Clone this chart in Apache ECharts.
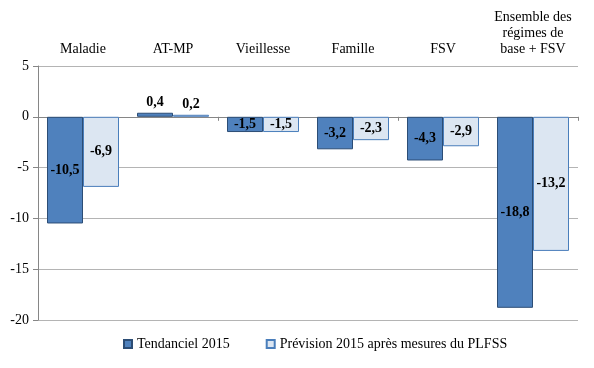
<!DOCTYPE html>
<html>
<head>
<meta charset="utf-8">
<script src="https://cdn.jsdelivr.net/npm/echarts@6/dist/echarts.min.js"></script>
<style>html,body{margin:0;padding:0;background:#fff}#c{width:594px;height:368px}</style>
</head>
<body>
<div id="c"></div>
<script>
var categories = ['Maladie', 'AT-MP', 'Vieillesse', 'Famille', 'FSV', 'Ensemble des\nrégimes de\nbase + FSV'];
var seriesNames = ['Tendanciel 2015', 'Prévision 2015 après mesures du PLFSS'];
var tendanciel = [-10.5, 0.4, -1.5, -3.2, -4.3, -18.8];
var prevision = [-6.9, 0.2, -1.5, -2.3, -2.9, -13.2];
var yTicks = [5, 0, -5, -10, -15, -20];

var FONT = '"Liberation Serif", serif';
function fmt(v) { return String(v).replace('.', ','); }
function items(arr) {
  return arr.map(function (v) {
    return { value: v, label: { position: v > 0 ? 'top' : 'inside' } };
  });
}
var chart = echarts.init(document.getElementById('c'));
chart.setOption({
  animation: false,
  grid: { left: 38, right: 16, top: 66, bottom: 48 },
  legend: {
    bottom: 12, left: 118,
    icon: 'rect',
    itemWidth: 8, itemHeight: 8, itemGap: 36,
    textStyle: { fontFamily: FONT, fontSize: 14, color: '#000' },
    data: seriesNames
  },
  xAxis: [
    {
      type: 'category', data: categories, position: 'bottom',
      axisLine: { onZero: true, lineStyle: { color: '#868686' } },
      axisTick: { show: true, length: 4, lineStyle: { color: '#868686' } },
      axisLabel: { show: false }
    },
    {
      type: 'category', data: categories, position: 'top',
      axisLine: { show: false }, axisTick: { show: false },
      axisLabel: { fontFamily: FONT, fontSize: 14, color: '#000', margin: 9, lineHeight: 16, interval: 0 }
    }
  ],
  yAxis: {
    type: 'value', min: yTicks[yTicks.length - 1], max: yTicks[0], interval: 5,
    axisLine: { show: true, lineStyle: { color: '#868686' } },
    axisTick: { show: true, length: 5, lineStyle: { color: '#868686' } },
    axisLabel: { fontFamily: FONT, fontSize: 14, color: '#000', margin: 9 },
    splitLine: { lineStyle: { color: '#b4b4b4' } }
  },
  series: [
    {
      name: seriesNames[0], type: 'bar', xAxisIndex: 0, data: items(tendanciel),
      barGap: '0%', barCategoryGap: '20%',
      itemStyle: { color: '#4F81BD', borderColor: '#2C4D75', borderWidth: 1 },
      label: { show: true, fontFamily: FONT, fontSize: 14, fontWeight: 'bold', color: '#000', distance: 3,
        formatter: function (p) { return fmt(p.value); } }
    },
    {
      name: seriesNames[1], type: 'bar', xAxisIndex: 0, data: items(prevision),
      barGap: '0%', barCategoryGap: '20%',
      itemStyle: { color: '#DCE6F2', borderColor: '#4A7EBB', borderWidth: 1 },
      label: { show: true, fontFamily: FONT, fontSize: 14, fontWeight: 'bold', color: '#000', distance: 3,
        formatter: function (p) { return fmt(p.value); } }
    }
  ]
});
</script>
</body>
</html>
